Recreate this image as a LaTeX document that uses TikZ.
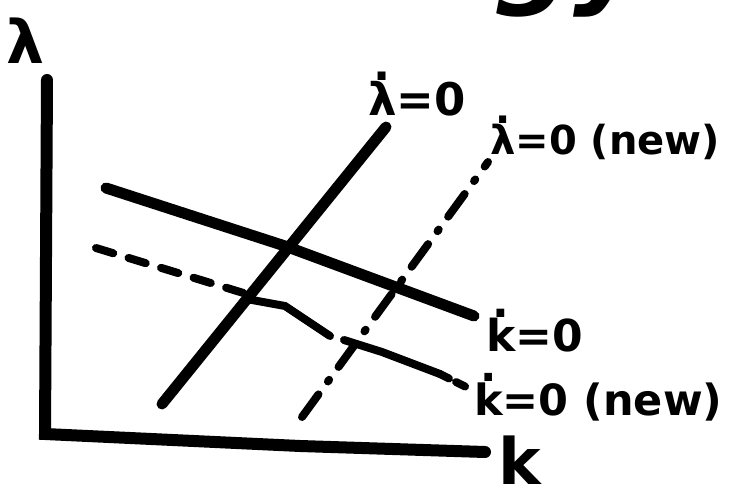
\documentclass[tikz,border=0pt]{standalone}
\usepackage{fontspec}
\setmainfont{DejaVu Sans}
\newcommand\dotov[1]{\setbox0=\hbox{#1}\leavevmode\rlap{\raisebox{\dimexpr\ht0+0.03em\relax}{\hbox to\wd0{\hss.\hss}}}\box0}
\begin{document}
\begin{tikzpicture}[x=1pt,y=-1pt,
  thickline/.style={line width=11pt,line cap=round},
  axisline/.style={line width=12pt,line cap=round},
  newk/.style={line width=8pt,line cap=round},
  newlam/.style={line width=8pt,line cap=round,dash pattern=on 28pt off 16pt on 2pt off 16pt},
  lbl/.style={font=\fontsize{42}{44}\selectfont\bfseries,inner sep=0pt,anchor=base west}]
\useasboundingbox (0,0) rectangle (739,494);
\begin{scope}
\clip (0,0) rectangle (739,494);
\node[font=\fontsize{110}{110}\selectfont\bfseries\itshape,anchor=base east,inner sep=0pt] (title) at (645,-6) {Technology};
\end{scope}
% axes
\coordinate (ytop) at (47,80);
\coordinate (origin) at (45,434);
\coordinate (xend) at (485,452);
\draw[axisline] (ytop) -- (origin) -- (300,446) -- (xend);
\node[lbl,font=\fontsize{60}{60}\selectfont\bfseries] (lamlab) at (6,64) {λ};
\node[lbl,font=\fontsize{64}{64}\selectfont\bfseries] (klab) at (498,484) {k};
% lambda dot = 0
\coordinate (l1) at (162,404);
\coordinate (l2) at (386,127);
\draw[thickline] (l1) -- (l2);
\node[lbl,font=\fontsize{45}{47}\selectfont\bfseries] (lamdot) at (368,116) {\dotov{λ}=0};
% lambda dot = 0 (new)
\coordinate (n1) at (302,417);
\coordinate (n2) at (488,162);
\draw[newlam] (n1) -- (n2);
\node[lbl,font=\fontsize{40}{42}\selectfont\bfseries] (lamdotnew) at (490,155) {\dotov{λ}=0 (new)};
% k dot = 0
\coordinate (k1) at (106,188);
\coordinate (k2) at (474,316);
\draw[thickline] (k1) -- (285,246) -- (k2);
\node[lbl,font=\fontsize{44}{46}\selectfont\bfseries] (kdot) at (486,352) {\dotov{k}=0};
% k dot = 0 (new)
\coordinate (m1) at (96,248);
\coordinate (m2) at (250,295);
\coordinate (m3) at (330,336);
\coordinate (m4) at (344,340);
\coordinate (m5) at (440,374);
\coordinate (m6) at (468,388);
\draw[newk,dash pattern=on 18pt off 16pt] (m1) -- (m2);
\draw[newk] (m2) -- (252,300) -- (285,306) -- (m3);
\draw[newk] (m4) -- (382,352) -- (m5);
\draw[newk,dash pattern=on 10pt off 8pt] (m5) -- (m6);
\node[lbl,font=\fontsize{43}{45}\selectfont\bfseries] (kdotnew) at (474,415) {\dotov{k}=0 (new)};
\end{tikzpicture}
\end{document}
